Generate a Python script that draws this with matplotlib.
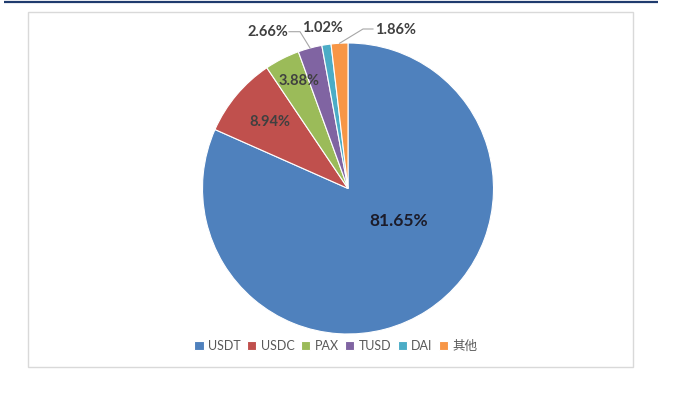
import numpy as np
import matplotlib.pyplot as plt
from matplotlib.patches import Rectangle

# stablecoin market share
names = ['USDT', 'USDC', 'PAX', 'TUSD', 'DAI', '其他']
shares = [81.65, 8.94, 3.88, 2.66, 1.02, 1.86]
colors = ['#4F81BD', '#C0504D', '#9BBB59', '#8064A2', '#4BACC6', '#F79646']

# label layout in pixels (x, y from top), leader kink point or None
label_pos = [(399, 221), (270, 122.5), (299, 81), (268, 32), (322, 28), (396, 30)]
leader_kink = [None, None, None, (300, 31.7), None, (363, 29)]
leader_start = [None, None, None, (289, 31.7), None, (373, 29)]

W, H = 677, 398
cx, cy, r = 348, 188.5, 145.5

plt.rcParams['font.family'] = ['Lato', 'Noto Sans CJK SC', 'DejaVu Sans']

fig = plt.figure(figsize=(W / 100, H / 100), dpi=100)
ax = fig.add_axes([0, 0, 1, 1])

# header rule and chart frame
ax.plot([4, 658], [H - 2, H - 2], color='#1F3B6E', lw=1.6, solid_capstyle='butt')
ax.add_patch(Rectangle((28, H - 367), 605, 355, facecolor='white',
                       edgecolor='#D9D9D9', lw=1.0, zorder=0))

wedges, _ = ax.pie(shares, colors=colors, startangle=90, counterclock=False,
                   center=(cx, H - cy), radius=r,
                   wedgeprops=dict(edgecolor='white', linewidth=0.8))

start = 90.0
for i, (w, v) in enumerate(zip(wedges, shares)):
    ang = np.deg2rad(start - v * 3.6 / 2)
    start -= v * 3.6
    x, y = label_pos[i]
    big = i == 0
    ax.text(x, H - y, f'{v:.2f}%', ha='center', va='center',
            fontsize=12.5 if big else 10.5, fontweight='bold',
            color='#1C1C2A' if big else '#404040', zorder=5)
    if leader_kink[i] is not None:
        ex, ey = cx + r * np.cos(ang), H - cy + r * np.sin(ang)
        sx, sy = leader_start[i]
        kx, ky = leader_kink[i]
        ax.plot([sx, kx, ex], [H - sy, H - ky, ey], color='#A6A6A6', lw=0.8, zorder=4)

ax.legend(wedges, names, loc='center', bbox_to_anchor=(336 / W, (H - 346) / H),
          bbox_transform=fig.transFigure, ncol=6, frameon=False, fontsize=9,
          handlelength=0.75, handleheight=0.75, handletextpad=0.35,
          columnspacing=0.5, labelcolor='#595959')

ax.set_xlim(0, W)
ax.set_ylim(0, H)
ax.set_aspect('equal')
ax.axis('off')

fig.savefig('out.png', dpi=100)
